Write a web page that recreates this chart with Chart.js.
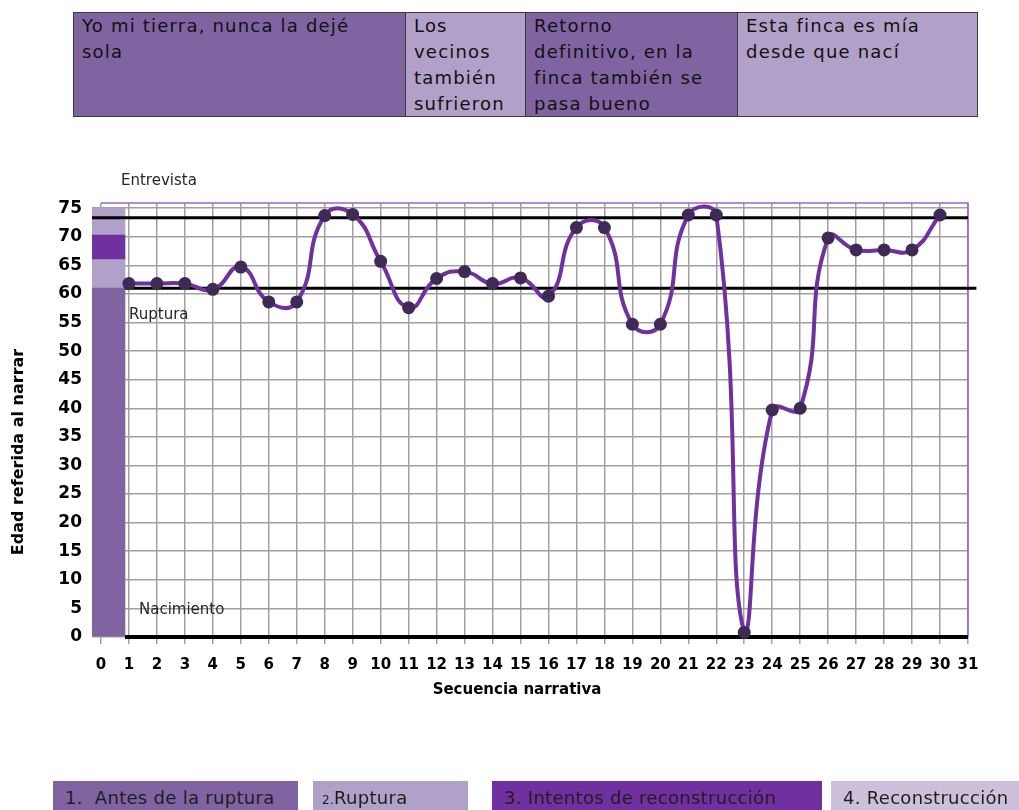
<!DOCTYPE html>
<html>
<head>
<meta charset="utf-8">
<script src="https://cdn.jsdelivr.net/npm/chart.js@4"></script>
<style>
  body { margin: 0; background: #fff; font-family: "DejaVu Sans", sans-serif; }
  #wrap { position: relative; width: 1019px; height: 810px; overflow: hidden; }
  #grafico { position: absolute; left: 0; top: 0; }
  .tabla { position: absolute; left: 73px; top: 12px; height: 103px; display: flex;
           border-top: 1.5px solid #3a3a3a; border-bottom: 1.5px solid #3a3a3a; border-left: 1.5px solid #3a3a3a; }
  .tabla div { box-sizing: border-box; height: 100%; padding: 0 0 0 8px; font-size: 18px; line-height: 26px;
               letter-spacing: 1.2px; color: #111; border-right: 1.5px solid #3a3a3a; white-space: pre-line; overflow: hidden; }
  .ley { position: absolute; top: 781px; height: 32px; box-sizing: border-box; padding-left: 12px;
         font-size: 18px; line-height: 34px; letter-spacing: 0.3px; color: #1e1e1e; white-space: pre; }
</style>
</head>
<body>
<div id="wrap">
  <canvas id="grafico" width="1019" height="810"></canvas>
  <div class="tabla" id="tabla"></div>
  <div id="leyenda"></div>
</div>
<script>
// secuencia narrativa y edad referida
var secuencia = [1,2,3,4,5,6,7,8,9,10,11,12,13,14,15,16,17,18,19,20,21,22,23,24,25,26,27,28,29,30];
var edad = [61.8,61.8,61.8,60.8,64.7,58.6,58.6,73.7,73.9,65.7,57.6,62.7,63.9,61.8,62.8,59.6,71.6,71.6,54.7,54.7,73.8,73.8,0.8,39.7,40,69.8,67.7,67.7,67.7,73.8];

var xTicks = [0,1,2,3,4,5,6,7,8,9,10,11,12,13,14,15,16,17,18,19,20,21,22,23,24,25,26,27,28,29,30,31];
var yTicks = [0,5,10,15,20,25,30,35,40,45,50,55,60,65,70,75];

// lineas de referencia
var edadEntrevista = 73.3;
var edadRuptura = 61;
var edadNacimiento = 0;

// barra de etapas a la izquierda
var etapaDesde = [0, 61, 66, 70.3];
var etapaHasta = [61, 66, 70.3, 75];
var etapaColor = ['#8064A2', '#B1A0C7', '#7030A0', '#B1A0C7'];

// textos de arriba
var relatos = ['Yo mi tierra, nunca la dejé\nsola', 'Los\nvecinos\ntambién\nsufrieron', 'Retorno\ndefinitivo, en la\nfinca también se\npasa bueno', 'Esta finca es mía\ndesde que nací'];
var relatoAncho = [332, 120, 212, 240];
var relatoColor = ['#8064A2', '#B1A0C7', '#8064A2', '#B1A0C7'];

// leyenda de abajo
var etapas = ['1.  Antes de la ruptura', '2.Ruptura', '3. Intentos de reconstrucción', '4. Reconstrucción'];
var leyX = [53, 313, 492, 831];
var leyAncho = [245, 155, 330, 190];
var leyColor = ['#8064A2', '#B1A0C7', '#7030A0', '#CCC0DA'];

var tabla = document.getElementById('tabla');
relatos.forEach(function (t, i) {
  var d = document.createElement('div');
  d.style.width = relatoAncho[i] + 'px';
  d.style.background = relatoColor[i];
  d.textContent = t;
  tabla.appendChild(d);
});
var leyenda = document.getElementById('leyenda');
etapas.forEach(function (t, i) {
  var d = document.createElement('div');
  d.className = 'ley';
  d.style.left = leyX[i] + 'px';
  d.style.width = leyAncho[i] + 'px';
  d.style.background = leyColor[i];
  if (i == 1) {
    d.style.paddingLeft = '9px';
    d.innerHTML = '<span style="font-size:12px">2.</span>Ruptura';
  } else {
    d.textContent = t;
  }
  leyenda.appendChild(d);
});

var datasets = [];
datasets.push({
  label: 'Edad',
  data: secuencia.map(function (s, i) { return {x: s, y: edad[i]}; }),
  borderColor: '#7030A0',
  borderWidth: 4,
  tension: 0.5,
  pointRadius: 6.5,
  pointBackgroundColor: '#3E2A55',
  pointBorderWidth: 0,
  clip: false,
  order: 0
});
datasets.push({
  label: 'Entrevista',
  data: [{x: -0.32, y: edadEntrevista}, {x: 31, y: edadEntrevista}],
  borderColor: '#000', borderWidth: 3, pointRadius: 0, clip: false, order: 1
});
datasets.push({
  label: 'Ruptura',
  data: [{x: 0.86, y: edadRuptura}, {x: 31.3, y: edadRuptura}],
  borderColor: '#000', borderWidth: 3, pointRadius: 0, clip: false, order: 1
});
datasets.push({
  label: 'Nacimiento',
  data: [{x: 0.86, y: edadNacimiento}, {x: 31, y: edadNacimiento}],
  borderColor: '#000', borderWidth: 4, pointRadius: 0, clip: false, order: 1
});
etapaDesde.forEach(function (d, i) {
  datasets.push({
    type: 'bar',
    label: 'etapa' + i,
    data: [{x: 0.27, y: [d, etapaHasta[i]]}],
    backgroundColor: etapaColor[i],
    barThickness: 33,
    grouped: false,
    order: 2
  });
});

// textos sobre el grafico
var textos = {
  id: 'textos',
  beforeDatasetsDraw: function (chart) {
    var ctx = chart.ctx, a = chart.chartArea;
    ctx.save();
    ctx.strokeStyle = '#9966CC';
    ctx.lineWidth = 1.5;
    ctx.beginPath();
    ctx.moveTo(chart.scales.x.getPixelForValue(0), a.top);
    ctx.lineTo(a.right, a.top);
    ctx.lineTo(a.right, a.bottom);
    ctx.stroke();
    ctx.restore();
  },
  afterDraw: function (chart) {
    var ctx = chart.ctx;
    ctx.save();
    ctx.fillStyle = '#262626';
    ctx.font = '15px "DejaVu Sans"';
    ctx.textBaseline = 'middle';
    ctx.fillText('Entrevista', 121, 181);
    ctx.fillText('Ruptura', 129, 315);
    ctx.fillText('Nacimiento', 139, 610);
    ctx.fillStyle = '#000';
    ctx.font = 'bold 15px "DejaVu Sans"';
    ctx.textAlign = 'center';
    ctx.fillText('Secuencia narrativa', 517, 690);
    ctx.translate(19, 452);
    ctx.rotate(-Math.PI / 2);
    ctx.font = 'bold 16px "DejaVu Sans"';
    ctx.fillText('Edad referida al narrar', 0, 0);
    ctx.restore();
  }
};

var ctx = document.getElementById('grafico').getContext('2d');
var grafico = new Chart(ctx, {
  type: 'line',
  data: {datasets: datasets},
  options: {
    responsive: false,
    animation: false,
    events: [],
    layout: {padding: {top: 203, left: 0, right: 51, bottom: 113}},
    plugins: {legend: {display: false}, tooltip: {enabled: false}},
    scales: {
      x: {
        type: 'linear',
        offset: false,
        min: -0.32,
        max: 31,
        afterBuildTicks: function (s) { s.ticks = xTicks.map(function (v) { return {value: v}; }); },
        afterFit: function (s) { s.height = 60; },
        grid: {offset: false, color: '#A0A0A0', lineWidth: 1.5, drawTicks: true, tickLength: 7, tickColor: '#A0A0A0'},
        border: {display: false},
        ticks: {autoSkip: false, maxRotation: 0, padding: 12, color: '#000', font: {family: 'DejaVu Sans', size: 15, weight: 'bold'}}
      },
      y: {
        min: 0,
        max: 75.9,
        afterBuildTicks: function (s) { s.ticks = yTicks.map(function (v) { return {value: v}; }); },
        afterFit: function (s) { s.width = 92; },
        grid: {color: '#A0A0A0', lineWidth: 1.5, drawTicks: false},
        border: {display: false},
        ticks: {padding: 10, color: '#000', font: {family: 'DejaVu Sans', size: 17, weight: 'bold'}}
      }
    }
  },
  plugins: [textos]
});
</script>
</body>
</html>
